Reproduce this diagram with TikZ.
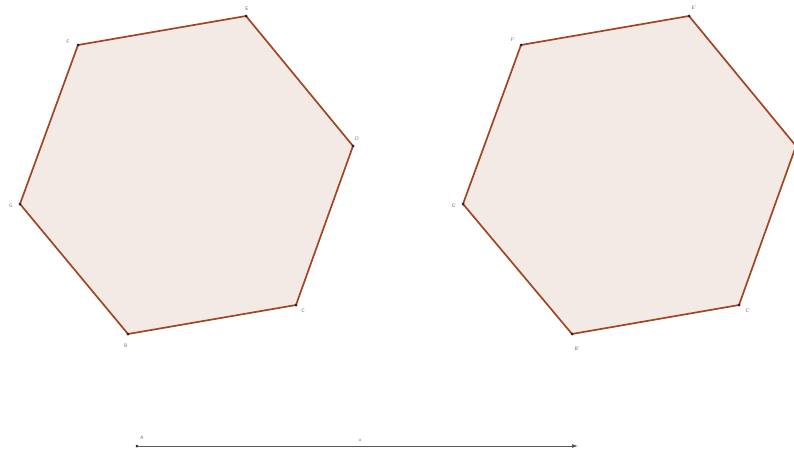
\documentclass[tikz,border=0pt]{standalone}
\usetikzlibrary{arrows.meta}
\definecolor{polyfill}{RGB}{243,234,229}
\definecolor{polyedge}{RGB}{160,70,35}
\definecolor{ptcol}{RGB}{30,30,60}
\definecolor{lblcol}{RGB}{110,110,120}
\tikzset{
  poly/.style={fill=polyfill, draw=polyedge, line width=1.7pt, line join=round},
  pt/.style={circle, fill=ptcol, inner sep=0pt, minimum size=3pt},
  lbl/.style={text=lblcol, font=\sffamily\fontsize{5}{5}\selectfont, inner sep=0pt},
  vec/.style={draw=black!65, line width=0.8pt, -{Latex[length=6pt,width=4pt]}}
}
\begin{document}
\begin{tikzpicture}[x=1pt,y=-1pt]
\useasboundingbox (0,0) rectangle (794,455);
% left hexagon
\coordinate (B) at (128,334);
\coordinate (C) at (296,305);
\coordinate (D) at (353,146);
\coordinate (E) at (246,16);
\coordinate (F) at (78,45);
\coordinate (G) at (20,204);
\draw[poly] (B) -- (C) -- (D) -- (E) -- (F) -- (G) -- cycle;
\foreach \p in {B,C,D,E,F,G} \node[pt] (p\p) at (\p) {};
\node[lbl] (lB) at (126,346) {B};
\node[lbl] (lC) at (303,311) {C};
\node[lbl] (lD) at (357,139) {D};
\node[lbl] (lE) at (247,9) {E};
\node[lbl] (lF) at (68,42) {F};
\node[lbl] (lG) at (11,206) {G};
% right hexagon
\coordinate (B') at (572,334);
\coordinate (C') at (739,305);
\coordinate (D') at (796,146);
\coordinate (E') at (689,16);
\coordinate (F') at (521,45);
\coordinate (G') at (463,204);
\draw[poly] (B') -- (C') -- (D') -- (E') -- (F') -- (G') -- cycle;
\foreach \p in {B',C',E',F',G'} \node[pt] at (\p) {};
\node[lbl] (lB') at (577,349) {B'};
\node[lbl] (lC') at (748,311) {C'};
\node[lbl] (lE') at (694,8) {E'};
\node[lbl] (lF') at (513,40) {F'};
\node[lbl] (lG') at (454,206) {G'};
% vector u
\node[pt] (A) at (137,446) {};
\coordinate (Aend) at (578,446);
\draw[vec] (A.center) -- (Aend);
\node[lbl] (lA) at (142,438) {A};
\node[lbl] (lu) at (360,440) {u};
\end{tikzpicture}
\end{document}
